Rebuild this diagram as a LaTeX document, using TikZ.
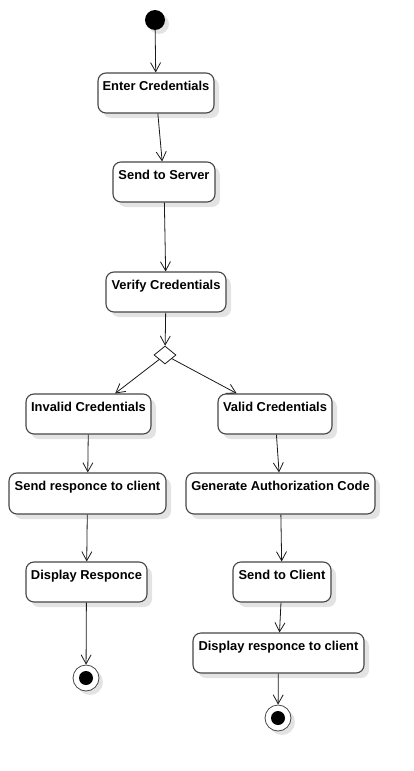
\documentclass[tikz,border=0pt]{standalone}
\usepackage{fontspec}
\setmainfont{Liberation Sans}
\usepackage{tikz}
\usetikzlibrary{shapes.geometric, arrows.meta, shadows}
\definecolor{myborder}{RGB}{70,70,70}
\definecolor{myline}{RGB}{25,25,25}
\tikzset{
  action/.style={rectangle, draw=myborder, fill=white, rounded corners=8pt,
    line width=1.1pt, minimum height=40pt, inner sep=0pt,
    drop shadow={shadow xshift=5pt, shadow yshift=-5pt, fill=black!18, opacity=.6}},
  atext/.style={anchor=north, yshift=-5.5pt, font=\bfseries\fontsize{12.9}{14}\selectfont},
  decision/.style={diamond, draw=myline, fill=white, line width=0.8pt,
    minimum width=22pt, minimum height=18pt, inner sep=0pt},
  initial/.style={circle, fill=black, minimum size=20pt, inner sep=0pt,
    drop shadow={shadow xshift=4pt, shadow yshift=-4pt, fill=black!18, opacity=.6}},
  final/.style={circle, draw=myborder, fill=white, line width=0.8pt,
    minimum size=26pt, inner sep=0pt,
    drop shadow={shadow xshift=4pt, shadow yshift=-4pt, fill=black!18, opacity=.6},
    path picture={\fill[black] (path picture bounding box.center) circle (7pt);}},
  arrow/.style={-{Straight Barb[length=9pt, width=10pt]}, line width=0.8pt, color=myline}
}

\begin{document}
\begin{tikzpicture}[x=1pt, y=-1pt]
  \useasboundingbox (0,0) rectangle (414,771);

  % Start
  \node[initial] (start) at (155,20) {};

  % Main flow
  \node[action, minimum width=116pt, label={[atext]north:Enter Credentials}] (enter) at (156,93) {};
  \node[action, minimum width=102pt, label={[atext]north:Send to Server}] (server) at (164,182) {};
  \node[action, minimum width=120pt, label={[atext]north:Verify Credentials}] (verify) at (166,292) {};

  % Decision
  \node[decision] (dec) at (165,355) {};

  % Invalid branch
  \node[action, minimum width=125pt, label={[atext]north:Invalid Credentials}] (invalid) at (88.5,414) {};
  \node[action, minimum width=157pt, minimum height=41pt, label={[atext]north:Send responce to client}] (sendresp) at (87.5,493.5) {};
  \node[action, minimum width=121pt, label={[atext]north:Display Responce}] (display) at (86.5,582) {};
  \node[final] (endl) at (86,678) {};

  % Valid branch
  \node[action, minimum width=114pt, label={[atext]north:Valid Credentials}] (valid) at (275,414) {};
  \node[action, minimum width=189pt, minimum height=41pt, label={[atext]north:Generate Authorization Code}] (gencode) at (280.5,493.5) {};
  \node[action, minimum width=98pt, label={[atext]north:Send to Client}] (sendclient) at (282,582) {};
  \node[action, minimum width=171pt, label={[atext]north:Display responce to client}] (dispclient) at (278.5,653) {};
  \node[final] (endr) at (278,718) {};

  % Transitions
  \draw[arrow] (start) -- (enter);
  \draw[arrow] (enter) -- (server);
  \draw[arrow] (server) -- (verify);
  \draw[arrow] (verify) -- (dec);
  \draw[arrow] (dec) -- (invalid);
  \draw[arrow] (dec) -- (valid);
  \draw[arrow] (invalid) -- (sendresp);
  \draw[arrow] (sendresp) -- (display);
  \draw[arrow] (display) -- (endl);
  \draw[arrow] (valid) -- (gencode);
  \draw[arrow] (gencode) -- (sendclient);
  \draw[arrow] (sendclient) -- (dispclient);
  \draw[arrow] (dispclient) -- (endr);
\end{tikzpicture}
\end{document}
